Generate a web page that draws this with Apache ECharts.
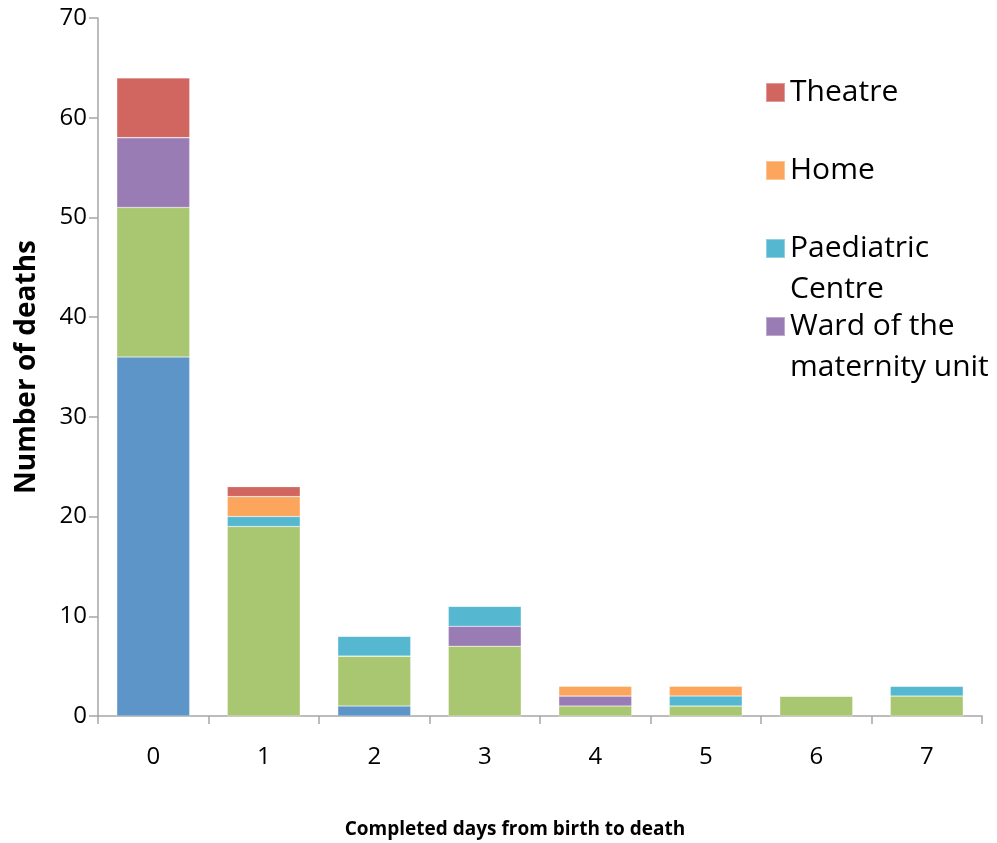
<!DOCTYPE html>
<html>
<head>
<meta charset="utf-8">
<script src="https://cdn.jsdelivr.net/npm/echarts@6/dist/echarts.min.js"></script>
<style>
  html, body { margin: 0; padding: 0; background: #fff; }
  #chart { width: 997px; height: 843px; }
</style>
</head>
<body>
<div id="chart"></div>
<script>
// Completed days from birth to death
const days = ['0', '1', '2', '3', '4', '5', '6', '7'];

// Deaths by place, stacked bottom to top
const delivery   = [36, 0, 1, 0, 0, 0, 0, 0];
const neonatal   = [15, 19, 5, 7, 1, 1, 2, 2];
const ward       = [7, 0, 0, 2, 1, 0, 0, 0];
const paediatric = [0, 1, 2, 2, 0, 1, 0, 1];
const home       = [0, 2, 0, 0, 1, 1, 0, 0];
const theatre    = [6, 1, 0, 0, 0, 0, 0, 0];

const yTicks = { min: 0, max: 70, interval: 10 };

const FONT = '"Open Sans"';
const colors = {
  delivery: '#5E95C9',
  neonatal: '#A9C670',
  ward: '#9A7CB4',
  paediatric: '#55B8D0',
  home: '#FBA65C',
  theatre: '#D0665F'
};

function bar(name, data, color) {
  return {
    name: name,
    type: 'bar',
    stack: 'total',
    data: data,
    barCategoryGap: '34%',
    itemStyle: { color: color, borderColor: 'rgba(255,255,255,0.35)', borderWidth: 0.6 },
    emphasis: { disabled: true }
  };
}

// One legend block per entry. Wrapped labels get a blank leading line so the
// swatch (centred on the text block) lines up with the first line of text.
function legendEntry(name, lines, top) {
  const label = lines.length > 1 ? '\n' + lines.join('\n') : lines[0];
  return {
    data: [{ name: name }],
    orient: 'vertical',
    left: 765,
    top: top,
    itemWidth: 19,
    itemHeight: 19,
    itemGap: 0,
    padding: 0,
    selectedMode: false,
    icon: 'rect',
    formatter: function () { return label; },
    textStyle: {
      fontFamily: FONT,
      fontSize: 30,
      color: '#000',
      lineHeight: 41
    }
  };
}

const chart = echarts.init(document.getElementById('chart'));
chart.setOption({
  animation: false,
  title: {
    text: 'Completed days from birth to death',
    left: 510,
    top: 815,
    textAlign: 'center',
    textStyle: { fontFamily: FONT, fontSize: 19, fontWeight: 'bold', color: '#000' }
  },
  grid: { left: 98, right: 15, top: 18, bottom: 127, containLabel: false },
  legend: [
    legendEntry('Theatre', ['Theatre'], 72),
    legendEntry('Home', ['Home'], 150),
    legendEntry('Paediatric Centre', ['Paediatric', 'Centre'], 187),
    legendEntry('Ward of the maternity unit', ['Ward of the', 'maternity unit'], 265)
  ],
  xAxis: {
    type: 'category',
    data: days,
    axisLine: { lineStyle: { color: '#A6A6A6', width: 1.5 } },
    axisTick: { show: true, length: 8, lineStyle: { color: '#A6A6A6', width: 1.5 } },
    axisLabel: { margin: 29, fontFamily: FONT, fontSize: 24, color: '#000' }
  },
  yAxis: {
    type: 'value',
    min: yTicks.min,
    max: yTicks.max,
    interval: yTicks.interval,
    name: 'Number of deaths',
    nameLocation: 'middle',
    nameGap: 57,
    nameTextStyle: { fontFamily: FONT, fontSize: 28, fontWeight: 'bold', color: '#000' },
    splitLine: { show: false },
    axisLine: { show: true, lineStyle: { color: '#A6A6A6', width: 1.5 } },
    axisTick: { show: true, length: 9, lineStyle: { color: '#A6A6A6', width: 1.5 } },
    axisLabel: { margin: 11, fontFamily: FONT, fontSize: 24, color: '#000' }
  },
  series: [
    bar('Delivery room', delivery, colors.delivery),
    bar('Neonatal unit', neonatal, colors.neonatal),
    bar('Ward of the maternity unit', ward, colors.ward),
    bar('Paediatric Centre', paediatric, colors.paediatric),
    bar('Home', home, colors.home),
    bar('Theatre', theatre, colors.theatre)
  ]
});
</script>
</body>
</html>
